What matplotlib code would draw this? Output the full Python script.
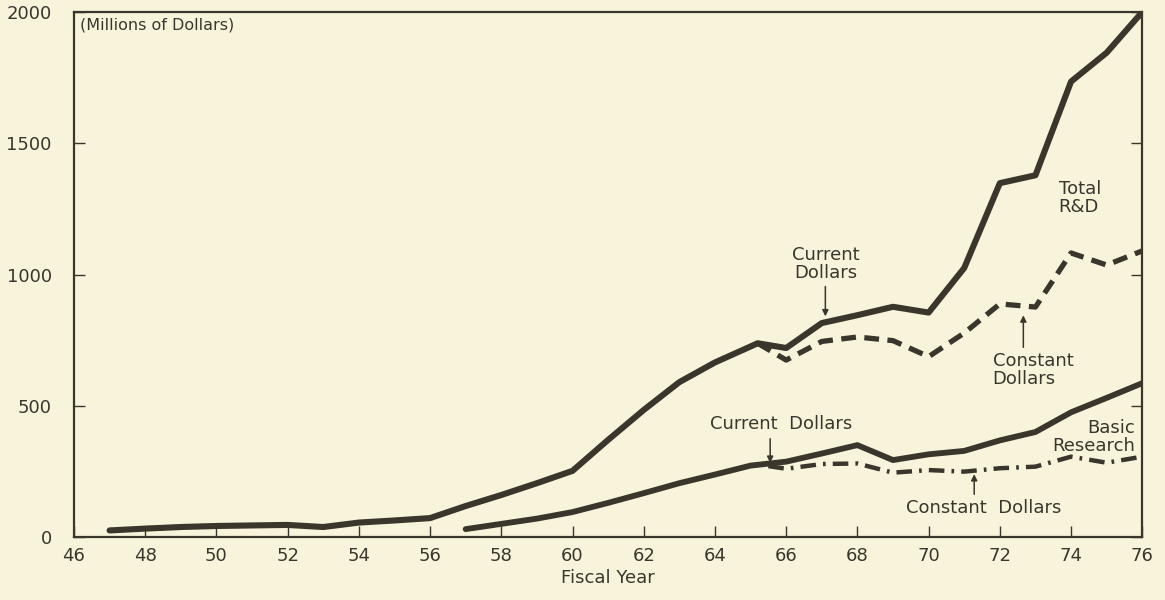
import matplotlib.pyplot as plt

# data (millions of dollars, fiscal years)
years_total = [47, 48, 49, 50, 51, 52, 53, 54, 55, 56, 57, 58, 59, 60, 61, 62, 63, 64,
               65.2, 66, 67, 68, 69, 70, 71, 72, 73, 74, 75, 76]
total_current = [25, 32, 38, 42, 44, 46, 38, 55, 63, 72, 118, 160, 205, 252, 370, 484, 590, 665,
                 738, 720, 815, 845, 877, 855, 1025, 1348, 1378, 1735, 1845, 2000]

years_total_const = [65.2, 66, 67, 68, 69, 70, 71, 72, 73, 74, 75, 76]
total_constant = [738, 674, 745, 762, 748, 687, 777, 888, 876, 1082, 1036, 1090]

years_basic = [57, 58, 59, 60, 61, 62, 63, 64, 65, 66, 67, 68, 69, 70, 71, 72, 73, 74, 75, 76]
basic_current = [30, 50, 70, 95, 130, 167, 205, 238, 272, 287, 318, 350, 293, 315, 328, 368,
                 400, 475, 530, 586]

years_basic_const = [65.5, 66, 67, 68, 69, 70, 71, 72, 73, 74, 75, 76]
basic_constant = [270, 260, 278, 280, 245, 255, 249, 262, 268, 306, 283, 306]

xticks = list(range(46, 77, 2))
yticks = [0, 500, 1000, 1500, 2000]

bg = "#f8f4dc"
ink = "#3b362c"

plt.rcParams['font.family'] = ['DejaVu Sans']

fig = plt.figure(figsize=(11.65, 6), dpi=100, facecolor=bg)
ax = fig.add_axes([0.0635, 0.105, 0.917, 0.875], facecolor=bg)

ax.plot(years_total, total_current, color=ink, lw=4.4, solid_capstyle='round', solid_joinstyle='round')
ax.plot(years_basic, basic_current, color=ink, lw=4.2, solid_capstyle='round', solid_joinstyle='round')
ax.plot(years_total_const, total_constant, color=ink, lw=3.8, dashes=(2.8, 1.6))
ax.plot(years_basic_const, basic_constant, color=ink, lw=3.2, dashes=(3.5, 1.6, 0.6, 1.6))

ax.set_xlim(46, 76)
ax.set_ylim(0, 2000)
ax.set_xticks(xticks)
ax.set_yticks(yticks)
ax.tick_params(direction='in', length=8, width=1, color=ink, labelcolor=ink,
               labelsize=13, right=True, pad=7)
ax.tick_params(axis='y', pad=16)
for s in ax.spines.values():
    s.set_color(ink)
    s.set_linewidth(1.6)

ax.set_xlabel("Fiscal Year", fontsize=13, color=ink, labelpad=3)
ax.text(0.006, 0.99, "(Millions of Dollars)", transform=ax.transAxes, fontsize=11.5,
        color=ink, va='top', ha='left')

txt = dict(fontsize=13, color=ink, linespacing=1.0)
arrow = dict(arrowstyle='-|>', color=ink, lw=1.1, mutation_scale=9)

# Total R&D labels
ax.text(67.1, 1040, "Current\nDollars", ha='center', va='center', **txt)
ax.annotate("", xy=(67.1, 830), xytext=(67.1, 965), arrowprops=arrow)
ax.text(73.65, 1291, "Total\nR&D", ha='left', va='center', **txt)
ax.text(71.8, 636, "Constant\nDollars", ha='left', va='center', **txt)
ax.annotate("", xy=(72.66, 855), xytext=(72.66, 712), arrowprops=arrow)

# Basic research labels
ax.text(65.86, 430, "Current  Dollars", ha='center', va='center', **txt)
ax.annotate("", xy=(65.55, 272), xytext=(65.55, 385), arrowprops=arrow)
ax.text(75.8, 381, "Basic\nResearch", ha='right', va='center', multialignment='right', **txt)
ax.text(71.56, 110, "Constant  Dollars", ha='center', va='center', **txt)
ax.annotate("", xy=(71.28, 250), xytext=(71.28, 152), arrowprops=arrow)

fig.savefig("out.png", dpi=100, facecolor=bg)
